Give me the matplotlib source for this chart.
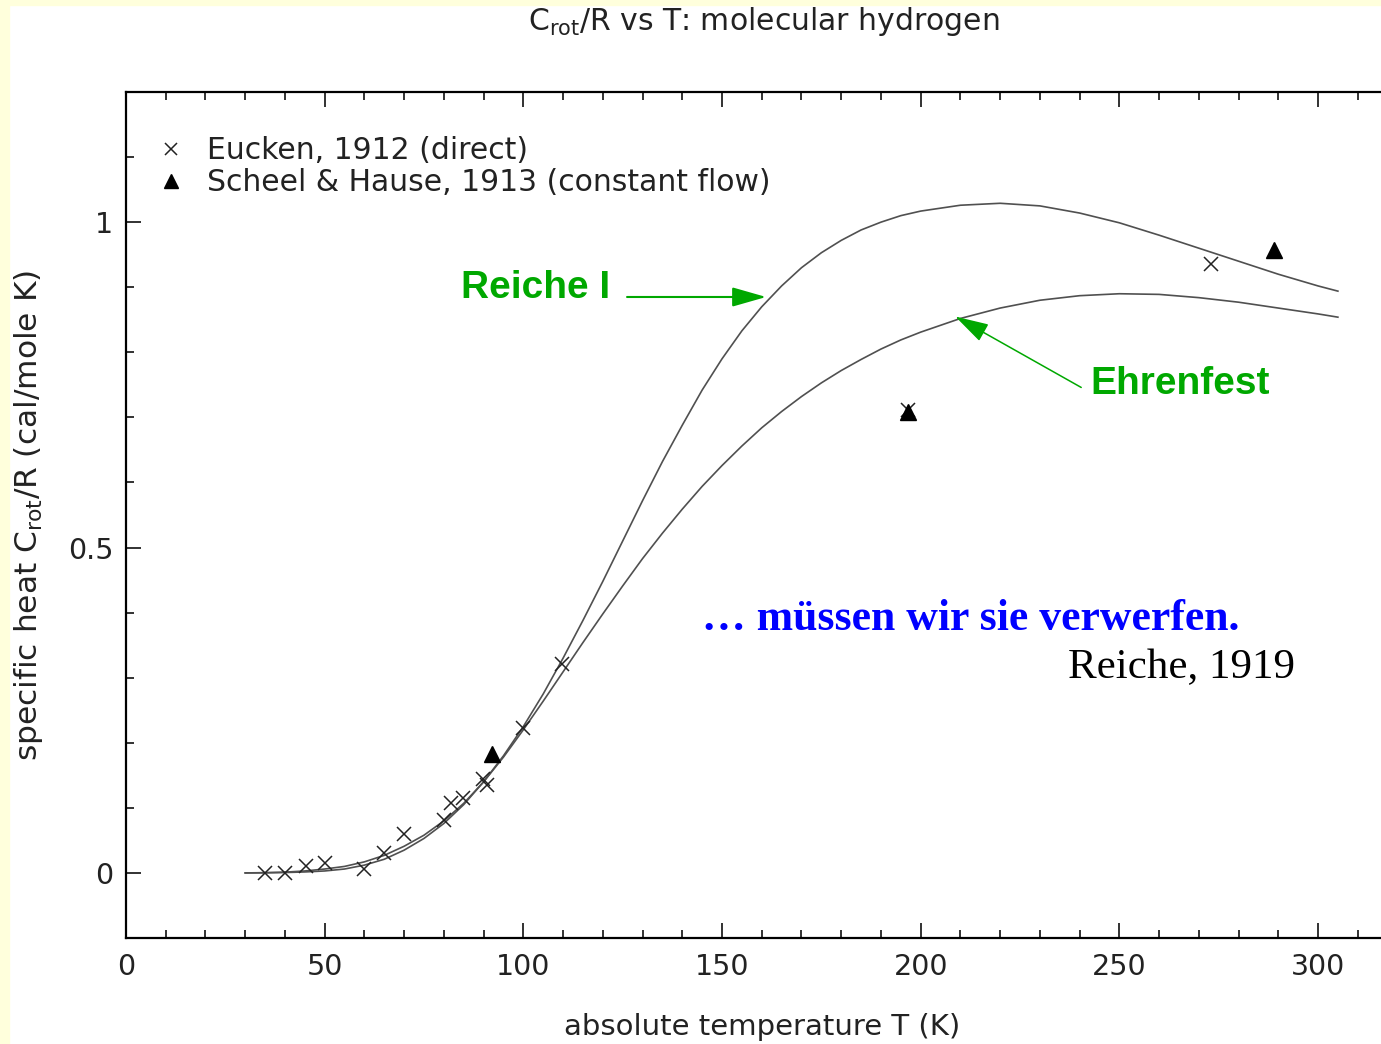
import matplotlib
matplotlib.use("Agg")
import matplotlib.pyplot as plt
from matplotlib.lines import Line2D
from matplotlib.patches import Rectangle
from matplotlib.ticker import MultipleLocator

# rotational specific heat of H2, theory curves
T_curve = [30, 35, 40, 45, 50, 55, 60, 65, 70, 75, 80, 85, 90, 95, 100, 105,
           110, 115, 120, 125, 130, 135, 140, 145, 150, 155, 160, 165, 170, 175,
           180, 185, 190, 195, 200, 210, 220, 230, 240, 250, 260, 270, 280, 290,
           300, 305]
reiche_I = [0.0, 0.0002, 0.0006, 0.0015, 0.003, 0.006, 0.012, 0.021, 0.035,
            0.053, 0.076, 0.105, 0.140, 0.180, 0.225, 0.275, 0.330, 0.388, 0.448,
            0.510, 0.572, 0.632, 0.688, 0.742, 0.790, 0.833, 0.870, 0.902, 0.930,
            0.953, 0.972, 0.988, 1.000, 1.010, 1.017, 1.026, 1.029, 1.025, 1.014,
            0.999, 0.980, 0.960, 0.940, 0.920, 0.902, 0.894]
ehrenfest = [0.0, 0.0004, 0.0012, 0.003, 0.006, 0.010, 0.017, 0.027, 0.041,
             0.058, 0.080, 0.107, 0.140, 0.178, 0.220, 0.264, 0.309, 0.354, 0.398,
             0.441, 0.483, 0.522, 0.559, 0.594, 0.626, 0.656, 0.684, 0.709, 0.732,
             0.753, 0.772, 0.789, 0.805, 0.819, 0.831, 0.852, 0.868, 0.880, 0.887,
             0.890, 0.889, 0.884, 0.877, 0.868, 0.859, 0.854]

# measurements
eucken_T = [35.0, 40.0, 45.2, 50.1, 60.0, 65.0, 70.0, 80.1, 81.8, 84.9, 89.9,
            90.9, 99.8, 109.8, 196.8, 273.1]
eucken_C = [0.0, 0.0, 0.010, 0.015, 0.006, 0.030, 0.060, 0.081, 0.107, 0.115,
            0.145, 0.135, 0.222, 0.321, 0.711, 0.936]
scheel_T = [92.0, 196.8, 288.8]
scheel_C = [0.182, 0.709, 0.957]

green = "#00a800"
ink = "#222222"

fig = plt.figure(figsize=(13.81, 10.44), dpi=100)
fig.patch.set_facecolor("white")
# pale yellow slide border
fig.patches.append(Rectangle((0, 1 - 5 / 1044), 1, 5 / 1044, transform=fig.transFigure,
                             color="#ffffdc", zorder=0))
fig.patches.append(Rectangle((0, 0), 9 / 1381, 1, transform=fig.transFigure,
                             color="#ffffdc", zorder=0))

ax = fig.add_axes([126 / 1381, 1 - 938 / 1044, 1271.5 / 1381, 846 / 1044])
ax.set_xlim(0, 320)
ax.set_ylim(-0.1, 1.2)

ax.plot(T_curve, reiche_I, color="#505050", lw=1.2)
ax.plot(T_curve, ehrenfest, color="#505050", lw=1.2)
ax.plot(eucken_T, eucken_C, ls="none", marker="x", ms=10, mew=1.1, color=ink)
ax.plot(scheel_T, scheel_C, ls="none", marker="^", ms=11, color="black")

for s in ax.spines.values():
    s.set_linewidth(1.6)
ax.xaxis.set_major_locator(MultipleLocator(50))
ax.xaxis.set_minor_locator(MultipleLocator(10))
ax.yaxis.set_major_locator(MultipleLocator(0.5))
ax.yaxis.set_minor_locator(MultipleLocator(0.1))
ax.tick_params(which="both", direction="in", top=True, right=True, width=1.3,
               labelsize=20.5, color=ink, labelcolor=ink)
ax.tick_params(which="major", length=11)
ax.tick_params(which="minor", length=6)
ax.tick_params(axis="x", pad=11)
ax.tick_params(axis="y", pad=9)
ax.set_yticks([0, 0.5, 1])
ax.set_yticklabels(["0", "0.5", "1"])

ax.set_xlabel("absolute temperature T (K)", fontsize=21, color=ink, va="center")
ax.xaxis.set_label_coords(0.5, -(1027 - 938) / 846)
ax.set_ylabel("specific heat C$_\\mathregular{rot}$/R (cal/mole K)", fontsize=22.5,
              color=ink, va="center")
ax.yaxis.set_label_coords(-(126 - 29) / 1271.5, 0.5)
fig.text(764 / 1381, 1 - 22 / 1044, "C$_\\mathregular{rot}$/R vs T: molecular hydrogen",
         fontsize=21.5, ha="center", va="center", color=ink)

handles = [Line2D([], [], ls="none", marker="x", ms=9, mew=1.1, color=ink),
           Line2D([], [], ls="none", marker="^", ms=10, color="black")]
ax.legend(handles, ["Eucken, 1912 (direct)", "Scheel & Hause, 1913 (constant flow)"],
          loc="upper left", bbox_to_anchor=(0.0155, 0.962), frameon=False,
          fontsize=21.5, handlelength=0.9, handletextpad=0.75, labelspacing=0.1,
          borderaxespad=0, labelcolor=ink)

# annotations
arrow_head = "-|>,head_length=1.05,head_width=0.3"
ax.text(121.8, 0.899, "Reiche I", color=green, fontsize=28, fontweight="bold",
        family="Liberation Sans", ha="right", va="center")
ax.annotate("", xy=(161.1, 0.885), xytext=(126.1, 0.885),
            arrowprops=dict(arrowstyle=arrow_head, color=green, lw=1.5,
                            mutation_scale=20, shrinkA=0, shrinkB=0))
ax.text(242.6, 0.752, "Ehrenfest", color=green, fontsize=28, fontweight="bold",
        family="Liberation Sans", ha="left", va="center")
ax.annotate("", xy=(208.7, 0.855), xytext=(240.4, 0.746),
            arrowprops=dict(arrowstyle=arrow_head, color=green, lw=1.1,
                            mutation_scale=20, shrinkA=0, shrinkB=0))

ax.text(145.0, 0.374, "\u2026 müssen wir sie verwerfen.", color="#0000ff", fontsize=31.5,
        fontweight="bold", family="Liberation Serif", ha="left", va="baseline")
ax.text(294.2, 0.300, "Reiche, 1919", color="black", fontsize=31,
        family="Liberation Serif", ha="right", va="baseline")

fig.savefig("out.png", dpi=100)
